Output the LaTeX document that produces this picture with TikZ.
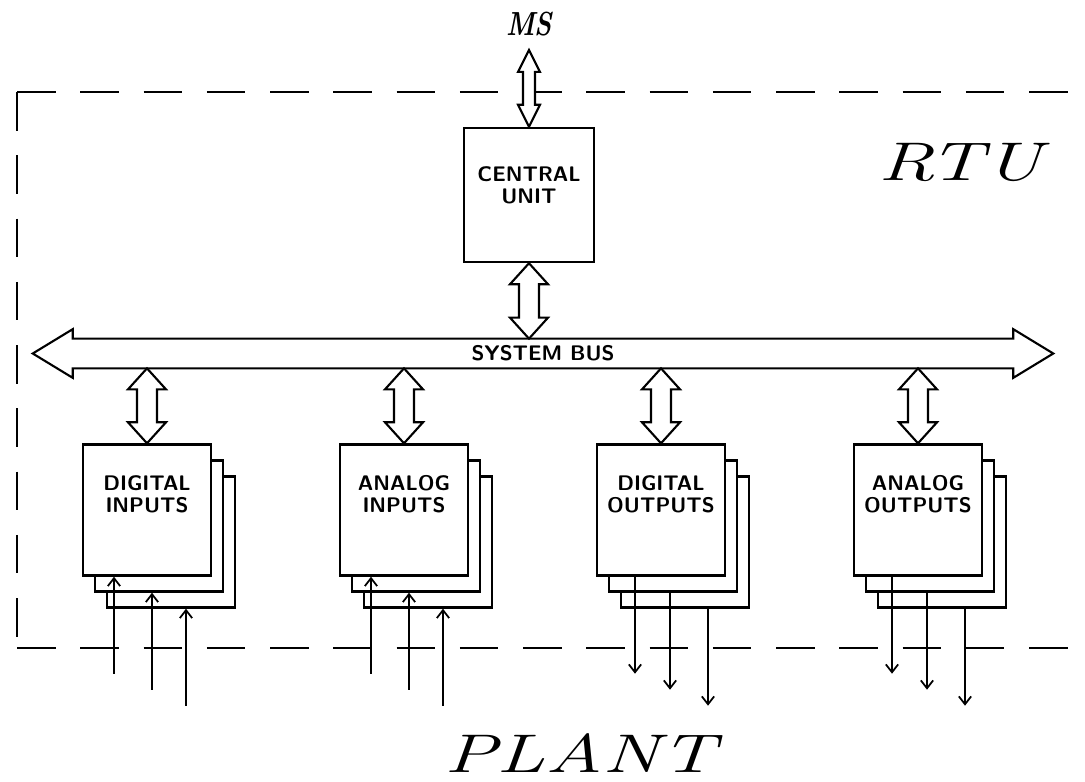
\documentclass[tikz,border=0pt]{standalone}
\usepackage{graphicx}
\usetikzlibrary{arrows.meta, positioning, calc}

\tikzset{
  frame/.style={line width=1.5pt, dash pattern=on 22pt off 14pt},
  unit/.style={draw, line width=1.4pt, fill=white, minimum width=2.56cm, minimum height=2.62cm, inner sep=0pt},
  boxtext/.style={font=\sffamily\bfseries\fontsize{12}{12.5}\selectfont, align=center, inner sep=0pt},
  bigtext/.style={font=\itshape\fontsize{31}{31}\selectfont, inner sep=0pt, anchor=base},
  busline/.style={line width=1.2pt, line join=miter},
  sig/.style={line width=1pt, >={Straight Barb[length=4.5pt,width=7pt]}}
}

% hollow double arrow: top tip, bottom tip, head half width, shaft half width, head length
\newcommand{\fatarrow}[5]{%
  \draw[busline, fill=white] #1 -- ($#1+(#3,#5)$) -- ($#1+(#4,#5)$) -- ($#2+(#4,-#5)$)
    -- ($#2+(#3,-#5)$) -- #2 -- ($#2+(-#3,-#5)$) -- ($#2+(-#4,-#5)$)
    -- ($#1+(-#4,#5)$) -- ($#1+(-#3,#5)$) -- cycle;}

\begin{document}
\begin{tikzpicture}[x=0.02cm, y=-0.02cm]
  \useasboundingbox (0,0) rectangle (1085,781);

  % RTU border
  \coordinate (tl) at (17,92);
  \coordinate (bl) at (17,648);
  \draw[frame] (tl) -- (1085,92);
  \draw[frame] (tl) -- (bl);
  \draw[frame] (bl) -- (1085,648);

  \node[bigtext] (rtu) at (960,180) {\scalebox{1.45}[1]{RTU}};
  \node[bigtext] (plant) at (580,772) {\scalebox{1.45}[1]{PLANT}};

  % central unit
  \node[font=\bfseries\itshape\fontsize{19}{19}\selectfont, anchor=base, inner sep=0pt] (ms) at (529,35) {\scalebox{0.8}[1]{MS}};
  \node[draw, line width=1.4pt, minimum width=2.6cm, minimum height=2.68cm] (cu) at (529,195) {};
  \node[boxtext] (cu-txt) at ([yshift=5.5pt]cu.center) {CENTRAL\\UNIT};
  \coordinate (ms-end) at ([yshift=-8.5pt]ms.base);
  \fatarrow{(ms-end)}{(cu.north)}{11}{6}{22}

  % system bus
  \node[boxtext, minimum width=18.8cm, minimum height=0.58cm] (bus) at (543,353.5) {SYSTEM BUS};
  \draw[busline] (bus.north west) -- (bus.north east) -- ++(0,-9.5) -- ($(bus.east)+(40,0)$)
    -- ($(bus.south east)+(0,9.5)$) -- (bus.south east) -- (bus.south west) -- ++(0,9.5)
    -- ($(bus.west)+(-40,0)$) -- ($(bus.north west)+(0,-9.5)$) -- cycle;
  \coordinate (cu-bus) at (cu.south |- bus.north);
  \fatarrow{(cu.south)}{(cu-bus)}{19}{10}{21}

  % I/O modules
  \foreach \n/\x/\t in {di/147/{DIGITAL\\INPUTS}, ai/404/{ANALOG\\INPUTS},
                        do/661/{DIGITAL\\OUTPUTS}, ao/918/{ANALOG\\OUTPUTS}} {
    \node[unit] (\n2) at (\x+24,542) {};
    \node[unit] (\n1) at (\x+12,526) {};
    \node[unit] (\n0) at (\x,510) {};
    \node[boxtext] (\n-txt) at ([yshift=9pt]\n0.center) {\t};
    \coordinate (\n-top) at (bus.south -| \n0.north);
    \fatarrow{(\n-top)}{(\n0.north)}{19}{10}{21}
  }

  % plant signals
  \foreach \n in {di,ai}
    \foreach \k/\o in {0/-33,1/5,2/39} {
      \coordinate (s) at ($(\n0.south)+(\o,0)$);
      \draw[sig, <-] (s |- \n\k.south) -- ++(0,97);
    }
  \foreach \n in {do,ao}
    \foreach \k/\o in {0/-26,1/9,2/47} {
      \coordinate (s) at ($(\n0.south)+(\o,0)$);
      \draw[sig, ->] (s |- \n\k.south) -- ++(0,97);
    }
\end{tikzpicture}
\end{document}
